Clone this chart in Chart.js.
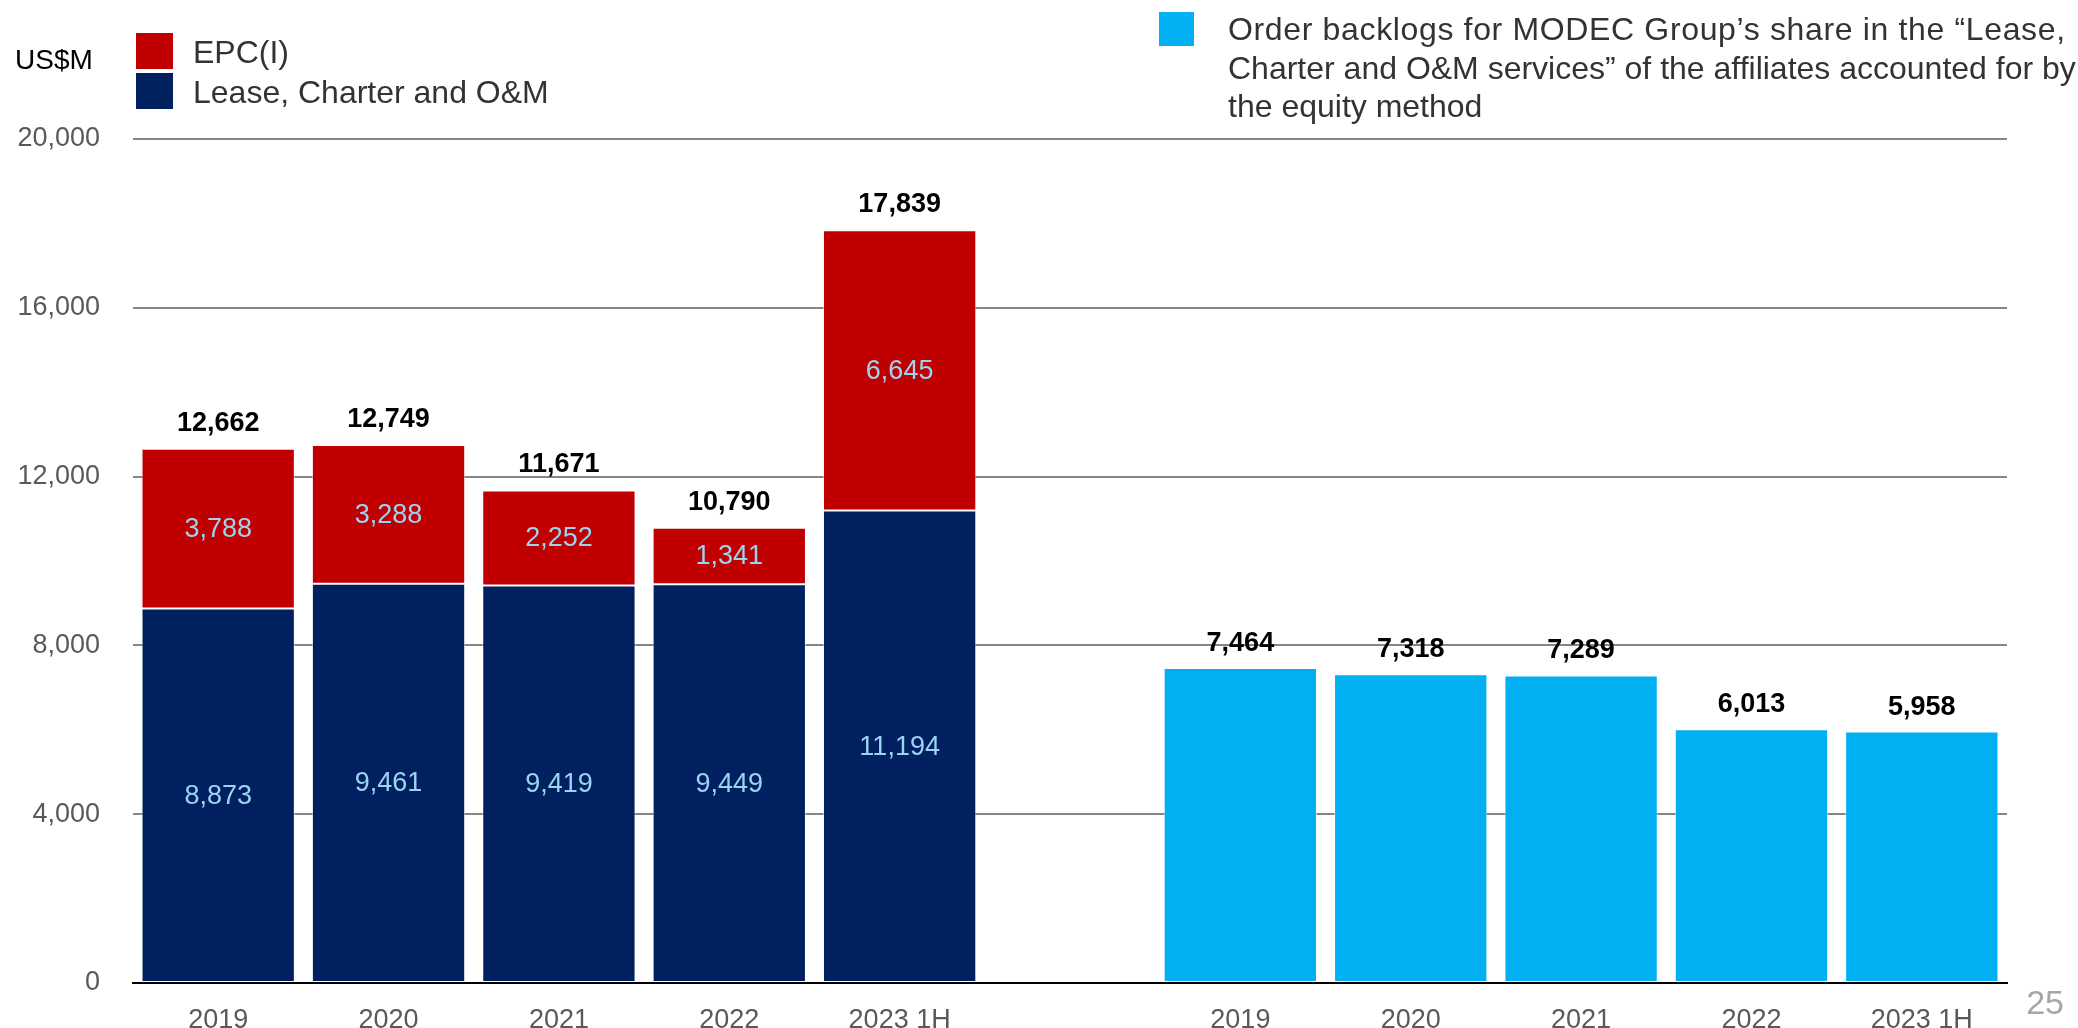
<!DOCTYPE html>
<html>
<head>
<meta charset="utf-8">
<script src="https://cdn.jsdelivr.net/npm/chart.js@4"></script>
<style>
	html, body { margin: 0; padding: 0; background: #ffffff; }
	canvas { display: block; }
</style>
</head>
<body>
<canvas id="backlogChart" width="2078" height="1028"></canvas>
<script>
// Kategorie: lewa grupa (MODEC), pusta przerwa, prawa grupa (udziały w spółkach stowarzyszonych)
const categories = ['2019', '2020', '2021', '2022', '2023 1H', '', '2019', '2020', '2021', '2022', '2023 1H'];

const leaseValues = [8873, 9461, 9419, 9449, 11194, null, null, null, null, null, null];
const epcValues = [3788, 3288, 2252, 1341, 6645, null, null, null, null, null, null];
const equityValues = [null, null, null, null, null, null, 7464, 7318, 7289, 6013, 5958];

// Sumy podpisane nad słupkami skumulowanymi
const totalValues = [12662, 12749, 11671, 10790, 17839];

const yTicks = [0, 4000, 8000, 12000, 16000, 20000];

const equityLegendLines = [
	'Order backlogs for MODEC Group’s share in the “Lease,',
	'Charter and O&M services” of the affiliates accounted for by',
	'the equity method',
];

const FONT = "'Liberation Sans', Arial, sans-serif";
const fmt = (v) => v.toLocaleString('en-US');

// Podpisy wartości na słupkach
const valueLabels = {
	id: 'valueLabels',
	afterDatasetsDraw(chart) {
		const ctx = chart.ctx;
		ctx.save();
		ctx.textAlign = 'center';

		chart.data.datasets.forEach((ds, di) => {
			const meta = chart.getDatasetMeta(di);
			meta.data.forEach((bar, i) => {
				const v = ds.data[i];
				if (v === null || v === undefined) return;

				if (ds.inside) {
					// wartość w środku segmentu
					ctx.font = `27px ${FONT}`;
					ctx.fillStyle = '#9bd3f3';
					ctx.textBaseline = 'middle';
					ctx.fillText(fmt(v), bar.x, (bar.y + bar.base) / 2 + 1);
				}
				if (ds.topLabel) {
					const label = ds.topLabel === 'total' ? totalValues[i] : v;
					ctx.font = `bold 27px ${FONT}`;
					ctx.fillStyle = '#000000';
					ctx.textBaseline = 'alphabetic';
					ctx.fillText(fmt(label), bar.x, bar.y - ds.labelGap);
				}
			});
		});
		ctx.restore();
	},
};

// Legenda, jednostka i numer strony
const pageDecor = {
	id: 'pageDecor',
	afterDraw(chart) {
		const ctx = chart.ctx;
		ctx.save();
		ctx.textAlign = 'left';
		ctx.textBaseline = 'middle';

		ctx.font = `28px ${FONT}`;
		ctx.fillStyle = '#000000';
		ctx.fillText('US$M', 15, 61);

		ctx.fillStyle = '#c00000';
		ctx.fillRect(136, 33, 37, 36);
		ctx.fillStyle = '#002060';
		ctx.fillRect(136, 73, 37, 36);

		ctx.font = `32px ${FONT}`;
		ctx.fillStyle = '#333333';
		ctx.fillText('EPC(I)', 193, 54);
		ctx.fillText('Lease, Charter and O&M', 193, 94);

		ctx.fillStyle = '#00b0f0';
		ctx.fillRect(1159, 12, 35, 34);

		ctx.fillStyle = '#333333';
		ctx.textBaseline = 'alphabetic';
		equityLegendLines.forEach((line, i) => {
			// pierwszy wiersz jest w oryginale nieco szerzej rozstawiony
			ctx.letterSpacing = i === 0 ? '0.65px' : '0px';
			ctx.fillText(line, 1228, 40 + i * 38.5);
		});
		ctx.letterSpacing = '0px';

		ctx.font = `34px ${FONT}`;
		ctx.fillStyle = '#a6a6a6';
		ctx.textAlign = 'right';
		ctx.textBaseline = 'middle';
		ctx.fillText('25', 2064, 1005);
		ctx.restore();
	},
};

const ctx = document.getElementById('backlogChart').getContext('2d');

new Chart(ctx, {
	type: 'bar',
	data: {
		labels: categories,
		datasets: [
			{
				label: 'Lease, Charter and O&M',
				data: leaseValues,
				backgroundColor: '#002060',
				inside: true,
			},
			{
				label: 'EPC(I)',
				data: epcValues,
				backgroundColor: '#c00000',
				inside: true,
				topLabel: 'total',
				labelGap: 18,
			},
			{
				label: 'Equity method affiliates',
				data: equityValues,
				backgroundColor: '#00b0f0',
				topLabel: 'value',
				labelGap: 17,
			},
		],
	},
	options: {
		responsive: false,
		animation: false,
		devicePixelRatio: 1,
		layout: {
			padding: { top: 139, left: 0, right: 71, bottom: 0 },
		},
		datasets: {
			bar: {
				stack: 'all',
				categoryPercentage: 1,
				barPercentage: 0.9,
				borderWidth: 1,
				borderColor: 'rgba(255,255,255,0.55)',
				borderSkipped: false,
			},
		},
		plugins: {
			legend: { display: false },
			tooltip: { enabled: false },
		},
		scales: {
			x: {
				stacked: true,
				afterFit: (scale) => {
					scale.height = 45;
				},
				grid: { display: false, drawTicks: false },
				border: { display: true, color: '#000000', width: 2 },
				ticks: {
					font: { family: FONT, size: 27 },
					color: '#595959',
					padding: 21,
					maxRotation: 0,
					autoSkip: false,
				},
			},
			y: {
				stacked: true,
				min: 0,
				max: 20000,
				afterFit: (scale) => {
					scale.width = 133;
					// etykiety osi nie powinny zmniejszać obszaru wykresu
					scale.paddingTop = 0;
					scale.paddingBottom = 0;
				},
				afterBuildTicks: (scale) => {
					scale.ticks = yTicks.map((v) => ({ value: v }));
				},
				grid: {
					drawTicks: false,
					lineWidth: 2,
					color: (c) => (c.tick && c.tick.value === 0 ? 'rgba(0,0,0,0)' : '#868686'),
				},
				border: { display: false },
				ticks: {
					font: { family: FONT, size: 27 },
					color: '#595959',
					padding: 33,
					callback: (v) => fmt(v),
				},
			},
		},
	},
	plugins: [valueLabels, pageDecor],
});
</script>
</body>
</html>
